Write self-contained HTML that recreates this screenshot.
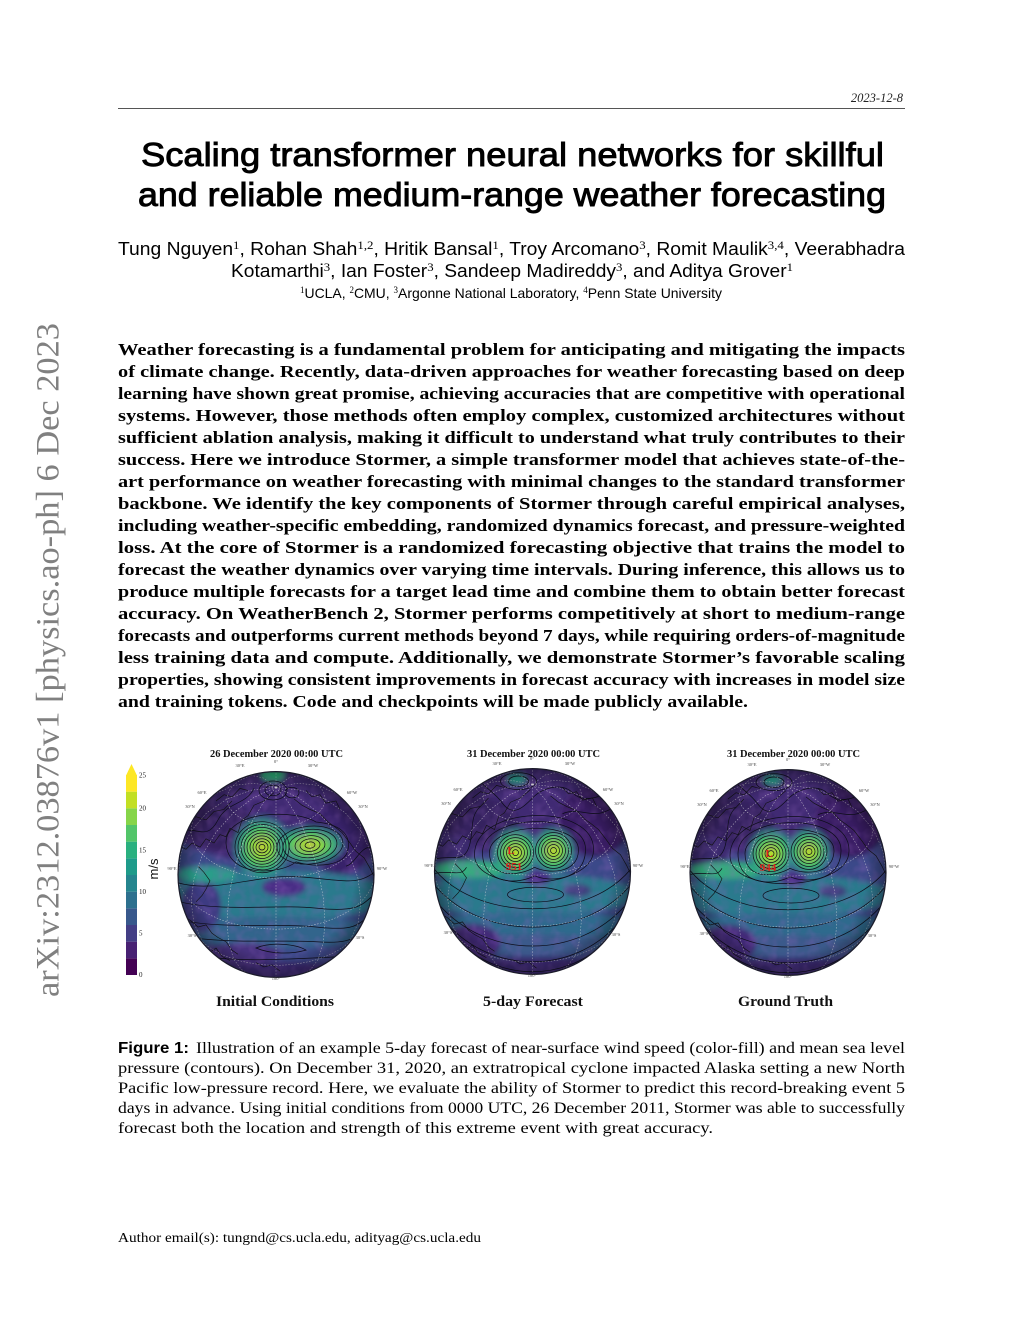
<!DOCTYPE html>
<html>
<head>
<meta charset="utf-8">
<style>
html,body{margin:0;padding:0;background:#fff;}
body{width:1024px;height:1325px;overflow:hidden;}
svg{display:block;}
.ser{font-family:"Liberation Serif",serif;}
.san{font-family:"Liberation Sans",sans-serif;}
</style>
</head>
<body>
<svg width="1024" height="1325" viewBox="0 0 1024 1325" xmlns="http://www.w3.org/2000/svg">
<defs>
  <clipPath id="gclip"><circle cx="0" cy="0" r="98"/></clipPath>
  <filter id="blur" x="-30%" y="-30%" width="160%" height="160%"><feGaussianBlur stdDeviation="2.5"/></filter>
  <filter id="noise" x="0" y="0" width="100%" height="100%">
    <feTurbulence type="fractalNoise" baseFrequency="0.1" numOctaves="2" seed="3"/>
    <feColorMatrix type="matrix" values="0 0 0 0 0.28  0 0 0 0 0.12  0 0 0 0 0.5  1.6 0 0 0 -0.62"/>
  </filter>
  <radialGradient id="cyc">
    <stop offset="0" stop-color="#c8e020"/>
    <stop offset="0.3" stop-color="#8fd744"/>
    <stop offset="0.6" stop-color="#3fbc73"/>
    <stop offset="0.85" stop-color="#25998a" stop-opacity="0.6"/>
    <stop offset="1" stop-color="#25858e" stop-opacity="0"/>
  </radialGradient>
  <radialGradient id="limb">
    <stop offset="0.8" stop-color="#000" stop-opacity="0"/>
    <stop offset="1" stop-color="#000" stop-opacity="0.35"/>
  </radialGradient>

  <g id="grat" fill="none" stroke="#e6e6e6" stroke-opacity="0.75" stroke-width="0.5" stroke-dasharray="1.5 1.5">
    <ellipse cx="0" cy="-71.9" rx="49" ry="26"/>
    <path d="M -79.3 -57.6 A 84.9 45 0 1 0 79.3 -57.6"/>
    <path d="M -98 0 A 98 52 0 0 0 98 0"/>
    <path d="M -79.1 57.8 A 84.9 45 0 0 0 79.1 57.8"/>
    <path d="M 0 -83 L 0 98"/>
    <path d="M 0 -83 L 0 -98"/>
    <path d="M 0 -83 L 12.7 -68.5 L 24.5 -49.4 L 34.6 -26.9 L 42.4 -2.5 L 47.3 22 L 49 45 L 47.3 65 L 42.4 80.5 L 34.6 90.5 L 28.8 93.6"/>
    <path d="M 0 -83 L -12.7 -68.5 L -24.5 -49.4 L -34.6 -26.9 L -42.4 -2.5 L -47.3 22 L -49 45 L -47.3 65 L -42.4 80.5 L -34.6 90.5 L -28.8 93.6"/>
    <path d="M 0 -83 L 22 -73.5 L 42.4 -58.9 L 60 -40.3 L 73.5 -19 L 82 3.6 L 84.9 26 L 82 46.6 L 73.5 64 L 66.3 72.1"/>
    <path d="M 0 -83 L -22 -73.5 L -42.4 -58.9 L -60 -40.3 L -73.5 -19 L -82 3.6 L -84.9 26 L -82 46.6 L -73.5 64 L -66.3 72.1"/>
    <path d="M 0 -83 L 25.4 -80.2 L 49 -71.9 L 69.3 -58.7 L 84.9 -41.5 L 94.7 -21.5 L 98 0"/>
    <path d="M 0 -83 L -25.4 -80.2 L -49 -71.9 L -69.3 -58.7 L -84.9 -41.5 L -94.7 -21.5 L -98 0"/>
    <path d="M 0 -83 L 22 -86.9 L 42.4 -84.9 L 60 -77.1 L 66.3 -72.1"/>
    <path d="M 0 -83 L -22 -86.9 L -42.4 -84.9 L -60 -77.1 L -66.3 -72.1"/>
    <path d="M 0 -83 L 12.7 -91.9 L 24.5 -94.4 L 28.7 -93.6"/>
    <path d="M 0 -83 L -12.7 -91.9 L -24.5 -94.4 L -28.7 -93.6"/>
  </g>

  <g id="coast" fill="none" stroke="#111" stroke-width="0.6">
    <path d="M -98 -28 L -90 -24 L -84 -30 L -76 -26 L -70 -34 L -62 -30 L -56 -38 L -50 -36 L -46 -44 L -38 -40 L -34 -52 L -28 -56 L -22 -66 L -12 -70 L -2 -78"/>
    <path d="M 18 -72 L 26 -66 L 34 -62 L 44 -58 L 52 -50 L 58 -46 L 66 -40 L 74 -30 L 80 -22 L 88 -16 L 94 -6 L 98 2"/>
    <path d="M -92 40 L -85 44 L -78 50 L -70 48 L -64 56 L -58 60 L -50 64 L -44 72 L -38 76"/>
    <path d="M -80 62 L -72 68 L -66 74 L -60 70 L -54 78 L -46 82"/>
    <path d="M -78 -8 L -72 -2 L -66 6 L -70 14 L -74 20 L -80 26"/>
    <path d="M -88 -50 L -80 -55 L -70 -52 L -62 -60 L -52 -62 L -44 -70"/>
    <path d="M 40 -92 L 48 -86 L 58 -88 L 66 -80 L 74 -82 L 80 -72"/>
    <path d="M -20 84 L -12 88 L -4 86 L 4 92"/>
    <path d="M 30 -80 L 36 -74 L 44 -76 L 50 -68 L 60 -70 L 64 -62"/>
    <path d="M -60 -70 L -52 -76 L -44 -74 L -36 -82 L -28 -80"/>
  </g>
</defs>

<!-- arXiv stamp -->
<text class="ser" transform="translate(58.5,997) rotate(-90)" x="0" y="0" font-size="33" fill="#808080" textLength="674" lengthAdjust="spacingAndGlyphs">arXiv:2312.03876v1  [physics.ao-ph]  6 Dec 2023</text>

<!-- header -->
<text class="ser" x="903" y="102" font-size="12.5" font-style="italic" text-anchor="end" fill="#222">2023-12-8</text>
<line x1="118" y1="108.5" x2="905" y2="108.5" stroke="#555" stroke-width="1"/>

<!-- title -->
<g class="san" font-size="33" fill="#000" stroke="#000" stroke-width="0.9">
<text x="141" y="166" textLength="743" lengthAdjust="spacingAndGlyphs">Scaling transformer neural networks for skillful</text>
<text x="138" y="206" textLength="748" lengthAdjust="spacingAndGlyphs">and reliable medium-range weather forecasting</text>
</g>

<!-- authors -->
<text class="san" x="118" y="255" font-size="18" fill="#000" textLength="787" lengthAdjust="spacingAndGlyphs">Tung Nguyen<tspan class="ser" dy="-6" font-size="12">1</tspan><tspan dy="6">, Rohan Shah</tspan><tspan class="ser" dy="-6" font-size="12">1,2</tspan><tspan dy="6">, Hritik Bansal</tspan><tspan class="ser" dy="-6" font-size="12">1</tspan><tspan dy="6">, Troy Arcomano</tspan><tspan class="ser" dy="-6" font-size="12">3</tspan><tspan dy="6">, Romit Maulik</tspan><tspan class="ser" dy="-6" font-size="12">3,4</tspan><tspan dy="6">, Veerabhadra</tspan></text>
<text class="san" x="231" y="277" font-size="18" fill="#000" textLength="562" lengthAdjust="spacingAndGlyphs">Kotamarthi<tspan class="ser" dy="-6" font-size="12">3</tspan><tspan dy="6">, Ian Foster</tspan><tspan class="ser" dy="-6" font-size="12">3</tspan><tspan dy="6">, Sandeep Madireddy</tspan><tspan class="ser" dy="-6" font-size="12">3</tspan><tspan dy="6">, and Aditya Grover</tspan><tspan class="ser" dy="-6" font-size="12">1</tspan></text>
<text class="san" x="300" y="298" font-size="14" fill="#000" textLength="422" lengthAdjust="spacingAndGlyphs"><tspan class="ser" dy="-5" font-size="9">1</tspan><tspan dy="5">UCLA, </tspan><tspan class="ser" dy="-5" font-size="9">2</tspan><tspan dy="5">CMU, </tspan><tspan class="ser" dy="-5" font-size="9">3</tspan><tspan dy="5">Argonne National Laboratory, </tspan><tspan class="ser" dy="-5" font-size="9">4</tspan><tspan dy="5">Penn State University</tspan></text>

<!-- abstract -->
<g class="ser" font-size="17" font-weight="bold" fill="#000">
<text x="118" y="355" textLength="787" lengthAdjust="spacingAndGlyphs">Weather forecasting is a fundamental problem for anticipating and mitigating the impacts</text>
<text x="118" y="377" textLength="787" lengthAdjust="spacingAndGlyphs">of climate change. Recently, data-driven approaches for weather forecasting based on deep</text>
<text x="118" y="399" textLength="787" lengthAdjust="spacingAndGlyphs">learning have shown great promise, achieving accuracies that are competitive with operational</text>
<text x="118" y="421" textLength="787" lengthAdjust="spacingAndGlyphs">systems. However, those methods often employ complex, customized architectures without</text>
<text x="118" y="443" textLength="787" lengthAdjust="spacingAndGlyphs">sufficient ablation analysis, making it difficult to understand what truly contributes to their</text>
<text x="118" y="465" textLength="787" lengthAdjust="spacingAndGlyphs">success. Here we introduce Stormer, a simple transformer model that achieves state-of-the-</text>
<text x="118" y="487" textLength="787" lengthAdjust="spacingAndGlyphs">art performance on weather forecasting with minimal changes to the standard transformer</text>
<text x="118" y="509" textLength="787" lengthAdjust="spacingAndGlyphs">backbone. We identify the key components of Stormer through careful empirical analyses,</text>
<text x="118" y="531" textLength="787" lengthAdjust="spacingAndGlyphs">including weather-specific embedding, randomized dynamics forecast, and pressure-weighted</text>
<text x="118" y="553" textLength="787" lengthAdjust="spacingAndGlyphs">loss. At the core of Stormer is a randomized forecasting objective that trains the model to</text>
<text x="118" y="575" textLength="787" lengthAdjust="spacingAndGlyphs">forecast the weather dynamics over varying time intervals. During inference, this allows us to</text>
<text x="118" y="597" textLength="787" lengthAdjust="spacingAndGlyphs">produce multiple forecasts for a target lead time and combine them to obtain better forecast</text>
<text x="118" y="619" textLength="787" lengthAdjust="spacingAndGlyphs">accuracy. On WeatherBench 2, Stormer performs competitively at short to medium-range</text>
<text x="118" y="641" textLength="787" lengthAdjust="spacingAndGlyphs">forecasts and outperforms current methods beyond 7 days, while requiring orders-of-magnitude</text>
<text x="118" y="663" textLength="787" lengthAdjust="spacingAndGlyphs">less training data and compute. Additionally, we demonstrate Stormer’s favorable scaling</text>
<text x="118" y="685" textLength="787" lengthAdjust="spacingAndGlyphs">properties, showing consistent improvements in forecast accuracy with increases in model size</text>
<text x="118" y="707" textLength="630" lengthAdjust="spacingAndGlyphs">and training tokens. Code and checkpoints will be made publicly available.</text>
</g>

<!-- FIGURE -->
<!-- colorbar -->
<g>
  <rect x="126" y="958.33" width="11" height="16.67" fill="#440154"/>
  <rect x="126" y="941.67" width="11" height="16.67" fill="#482173"/>
  <rect x="126" y="925" width="11" height="16.67" fill="#433e85"/>
  <rect x="126" y="908.33" width="11" height="16.67" fill="#38588c"/>
  <rect x="126" y="891.67" width="11" height="16.67" fill="#2d708e"/>
  <rect x="126" y="875" width="11" height="16.67" fill="#25858e"/>
  <rect x="126" y="858.33" width="11" height="16.67" fill="#1e9b8a"/>
  <rect x="126" y="841.67" width="11" height="16.67" fill="#2ab07f"/>
  <rect x="126" y="825" width="11" height="16.67" fill="#52c569"/>
  <rect x="126" y="808.33" width="11" height="16.67" fill="#86d549"/>
  <rect x="126" y="791.67" width="11" height="16.67" fill="#c2df23"/>
  <rect x="126" y="775" width="11" height="16.67" fill="#fde725"/>
  <polygon points="126,775.5 137,775.5 131.5,764" fill="#fde725"/>
  <g class="ser" font-size="7" fill="#222">
    <text x="139" y="777.5">25</text>
    <text x="139" y="810.5">20</text>
    <text x="139" y="852.5">15</text>
    <text x="139" y="894">10</text>
    <text x="139" y="935.5">5</text>
    <text x="139" y="977">0</text>
  </g>
  <text class="san" transform="translate(158,869) rotate(-90)" x="0" y="0" font-size="13" text-anchor="middle" fill="#111">m/s</text>
</g>

<!-- globe titles -->
<g class="ser" font-size="10" font-weight="bold" fill="#111">
  <text x="210" y="757" textLength="133" lengthAdjust="spacingAndGlyphs">26 December 2020 00:00 UTC</text>
  <text x="467" y="757" textLength="133" lengthAdjust="spacingAndGlyphs">31 December 2020 00:00 UTC</text>
  <text x="727" y="757" textLength="133" lengthAdjust="spacingAndGlyphs">31 December 2020 00:00 UTC</text>
</g>

<!-- GLOBE 1 -->
<g transform="translate(276,874.5) scale(1,1.05)">
  <g clip-path="url(#gclip)">
    <g filter="url(#blur)">
      <rect x="-130" y="-130" width="260" height="260" fill="#3b4a89"/>
      <ellipse cx="0" cy="-65" rx="120" ry="55" fill="#3f2a73"/>
      <ellipse cx="-55" cy="-45" rx="35" ry="22" fill="#36205f"/>
      <ellipse cx="65" cy="-35" rx="35" ry="35" fill="#38206a"/>
      <ellipse cx="0" cy="20" rx="115" ry="24" fill="#2c7a8d"/>
      <ellipse cx="8" cy="12" rx="22" ry="9" fill="#4a2f86"/>
      <ellipse cx="0" cy="55" rx="105" ry="15" fill="#33658c"/>
      <ellipse cx="-35" cy="75" rx="40" ry="10" fill="#46307f"/>
      <ellipse cx="0" cy="95" rx="90" ry="12" fill="#3e2b75"/>
      <ellipse cx="-75" cy="30" rx="20" ry="25" fill="#3e3a82"/>
      <circle cx="-14" cy="-26" r="32" fill="url(#cyc)"/>
      <ellipse cx="34" cy="-28" rx="38" ry="20" fill="url(#cyc)"/>
      <ellipse cx="-70" cy="0" rx="30" ry="8" fill="#2a9d8a"/>
      <ellipse cx="-3" cy="-95" rx="12" ry="6" fill="#2fb47c"/>
    </g>
    <rect x="-100" y="-100" width="200" height="200" filter="url(#noise)" opacity="0.4"/>
    <use href="#coast"/>
    <g fill="none" stroke="#0d0d1a" stroke-width="0.7">
      <ellipse cx="-14" cy="-26" rx="3" ry="2.7"/>
      <ellipse cx="-14" cy="-26" rx="6" ry="5.4"/>
      <ellipse cx="-14" cy="-26" rx="9" ry="8.1"/>
      <ellipse cx="-14" cy="-26" rx="12" ry="10.8"/>
      <ellipse cx="-14" cy="-26" rx="15" ry="13.5"/>
      <ellipse cx="-14" cy="-26" rx="18" ry="16.2"/>
      <ellipse cx="-14" cy="-26" rx="21" ry="18.9"/>
      <ellipse cx="-14" cy="-26" rx="24" ry="21.6"/>
      <ellipse cx="-14" cy="-26" rx="27" ry="24.3"/>
      <g transform="rotate(-5 34 -28)">
        <ellipse cx="34" cy="-28" rx="5" ry="3"/>
        <ellipse cx="34" cy="-28" rx="10" ry="6"/>
        <ellipse cx="34" cy="-28" rx="15" ry="9"/>
        <ellipse cx="34" cy="-28" rx="21" ry="12"/>
        <ellipse cx="34" cy="-28" rx="27" ry="15"/>
        <ellipse cx="34" cy="-28" rx="33" ry="18"/>
      </g>
      <path d="M -50 -30 C -50 -62, 20 -62, 40 -50 C 62 -48, 75 -40, 72 -24 C 70 -8, 40 -6, 20 -12 C 5 0, -48 4, -50 -30 Z"/>
      <ellipse cx="-3" cy="-80" rx="8" ry="5"/>
      <ellipse cx="-3" cy="-80" rx="14" ry="9"/>
      <ellipse cx="16" cy="-78" rx="7" ry="5"/>
      <path d="M -98 -40 C -80 -48, -70 -30, -58 -52 C -48 -70, -30 -66, -22 -82"/>
      <path d="M 40 -92 C 50 -80, 70 -82, 80 -70"/>
      <path d="M 98 -25 C 85 -30, 80 -10, 70 -8"/>
      <path d="M -98 8 C -60 18, -20 0, 20 2 S 80 12, 98 -2"/>
      <path d="M -97 26 C -50 36, 0 28, 40 32 S 85 30, 97 20"/>
      <path d="M -93 44 C -50 52, 0 46, 40 50 S 80 48, 93 40"/>
      <path d="M -86 60 C -40 66, 10 62, 40 64 S 75 62, 86 56"/>
      <path d="M -72 78 C -30 84, 20 80, 72 78"/>
      <path d="M -20 70 C -5 64, 20 66, 30 72 C 15 76, -5 76, -20 70 Z"/>
    </g>
    <use href="#grat"/>
    <circle cx="0" cy="0" r="98" fill="url(#limb)"/>
  </g>
  <circle cx="0" cy="0" r="98" fill="none" stroke="#1b1b2a" stroke-width="1.2"/>
</g>

<!-- GLOBE 2 field shared with 3 -->
<g transform="translate(532.5,871.5) scale(1,1.05)">
  <g clip-path="url(#gclip)">
    <g id="fieldB" filter="url(#blur)">
      <rect x="-130" y="-130" width="260" height="260" fill="#3b4a89"/>
      <ellipse cx="0" cy="-68" rx="120" ry="55" fill="#3f2a73"/>
      <ellipse cx="-52" cy="-48" rx="38" ry="22" fill="#36205f"/>
      <ellipse cx="62" cy="-48" rx="36" ry="34" fill="#371f62"/>
      <ellipse cx="-80" cy="-20" rx="22" ry="15" fill="#3a2a6e"/>
      <ellipse cx="-10" cy="22" rx="115" ry="20" fill="#2b7a8d"/>
      <ellipse cx="0" cy="52" rx="105" ry="14" fill="#2f6a8d"/>
      <ellipse cx="-5" cy="70" rx="100" ry="10" fill="#3a5a8b"/>
      <ellipse cx="-60" cy="68" rx="28" ry="18" fill="#422c78"/>
      <ellipse cx="0" cy="94" rx="90" ry="12" fill="#3e2b75"/>
      <ellipse cx="5" cy="6" rx="14" ry="7" fill="#4a2f86"/>
      <ellipse cx="45" cy="18" rx="14" ry="6" fill="#41407f"/>
      <ellipse cx="-62" cy="-2" rx="38" ry="8" fill="#34ad7e"/>
      <circle cx="-17" cy="-18" r="26" fill="url(#cyc)"/>
      <circle cx="21" cy="-20" r="24" fill="url(#cyc)"/>
      <ellipse cx="-16" cy="-88" rx="10" ry="5" fill="#2a9a8a"/>
    </g>
    <rect x="-100" y="-100" width="200" height="200" filter="url(#noise)" opacity="0.4"/>
    <use href="#coast"/>
    <g id="contB" fill="none" stroke="#0d0d1a" stroke-width="0.7">
      <ellipse cx="-17" cy="-18" rx="3" ry="2.85"/>
      <ellipse cx="-17" cy="-18" rx="6" ry="5.7"/>
      <ellipse cx="-17" cy="-18" rx="9" ry="8.55"/>
      <ellipse cx="-17" cy="-18" rx="12" ry="11.4"/>
      <ellipse cx="-17" cy="-18" rx="15" ry="14.25"/>
      <ellipse cx="-17" cy="-18" rx="18" ry="17.1"/>
      <ellipse cx="21" cy="-20" rx="3" ry="2.85"/>
      <ellipse cx="21" cy="-20" rx="6" ry="5.7"/>
      <ellipse cx="21" cy="-20" rx="9" ry="8.55"/>
      <ellipse cx="21" cy="-20" rx="12" ry="11.4"/>
      <ellipse cx="21" cy="-20" rx="15" ry="14.25"/>
      <ellipse cx="21" cy="-20" rx="18" ry="17.1"/>
      <path d="M -43 -18 C -43 -47, 47 -50, 46 -20 C 45 3, 15 2, 2 -4 C -12 4, -43 8, -43 -18 Z"/>
      <path d="M -50 -18 C -50 -56, 55 -58, 53 -20 C 52 10, 15 10, 2 4 C -12 12, -50 14, -50 -18 Z"/>
      <path d="M -58 -16 C -58 -64, 63 -66, 61 -20 C 60 18, -58 22, -58 -16 Z"/>
      <path d="M -98 -12 C -80 -16, -70 -8, -64 -22 C -58 -36, -64 -52, -52 -62"/>
      <path d="M -98 2 C -80 -2, -72 6, -66 -4"/>
      <ellipse cx="-14" cy="-86" rx="10" ry="5"/>
      <ellipse cx="-14" cy="-86" rx="18" ry="8"/>
      <path d="M -60 -95 C -50 -80, -40 -78, -30 -65 S -10 -60, 0 -70 S 30 -85, 40 -75 S 70 -70, 80 -80"/>
      <path d="M 30 -55 C 45 -62, 60 -50, 75 -58 S 90 -40, 98 -38"/>
      <path d="M -98 -2 C -55 48, 55 48, 98 -2"/>
      <path d="M -97 14 C -50 66, 50 66, 97 14"/>
      <path d="M -93 32 C -45 84, 45 84, 93 32"/>
      <path d="M -85 50 C -40 98, 40 98, 85 50"/>
      <path d="M -70 70 C -30 104, 30 104, 70 70"/>
      <ellipse cx="3" cy="22" rx="28" ry="7"/>
    </g>
    <use href="#grat"/>
    <circle cx="0" cy="0" r="98" fill="url(#limb)"/>
  </g>
  <circle cx="0" cy="0" r="98" fill="none" stroke="#1b1b2a" stroke-width="1.2"/>
</g>

<!-- GLOBE 3 -->
<g transform="translate(788,872.5) scale(1,1.05)">
  <g clip-path="url(#gclip)">
    <use href="#fieldB"/>
    <rect x="-100" y="-100" width="200" height="200" filter="url(#noise)" opacity="0.4"/>
    <use href="#coast"/>
    <use href="#contB"/>
    <use href="#grat"/>
    <circle cx="0" cy="0" r="98" fill="url(#limb)"/>
  </g>
  <circle cx="0" cy="0" r="98" fill="none" stroke="#1b1b2a" stroke-width="1.2"/>
</g>

<!-- red low labels -->
<g class="ser" font-weight="bold" fill="#e0201b" text-anchor="middle">
  <text x="511" y="854" font-size="11">L</text>
  <text x="514" y="870" font-size="11">951</text>
  <text x="769" y="857" font-size="11">L</text>
  <text x="768" y="871" font-size="11">944</text>
</g>

<!-- tiny graticule labels -->
<g class="ser" font-size="4.5" fill="#444" text-anchor="middle">
  <text x="276" y="763">0°</text><text x="240" y="767">30°E</text><text x="313" y="767">30°W</text>
  <text x="202" y="794">60°E</text><text x="352" y="794">60°W</text>
  <text x="190" y="808">30°N</text><text x="363" y="808">30°N</text>
  <text x="172" y="870">90°E</text><text x="382" y="870">90°W</text>
  <text x="192" y="937">30°S</text><text x="360" y="939">30°S</text>
  <text x="276" y="980">180°</text>

  <text x="532" y="760">0°</text><text x="497" y="765">30°E</text><text x="570" y="765">30°W</text>
  <text x="458" y="791">60°E</text><text x="608" y="791">60°W</text>
  <text x="446" y="805">30°N</text><text x="619" y="805">30°N</text>
  <text x="429" y="867">90°E</text><text x="638" y="867">90°W</text>
  <text x="448" y="934">30°S</text><text x="616" y="936">30°S</text>
  <text x="532" y="977">180°</text>

  <text x="788" y="761">0°</text><text x="752" y="766">30°E</text><text x="825" y="766">30°W</text>
  <text x="714" y="792">60°E</text><text x="864" y="792">60°W</text>
  <text x="702" y="806">30°N</text><text x="875" y="806">30°N</text>
  <text x="685" y="868">90°E</text><text x="894" y="868">90°W</text>
  <text x="704" y="935">30°S</text><text x="872" y="937">30°S</text>
  <text x="788" y="978">180°</text>
</g>

<!-- globe bottom labels -->
<g class="ser" font-size="14.5" font-weight="bold" fill="#111">
  <text x="216" y="1006" textLength="118" lengthAdjust="spacingAndGlyphs">Initial Conditions</text>
  <text x="483" y="1006" textLength="100" lengthAdjust="spacingAndGlyphs">5-day Forecast</text>
  <text x="738" y="1006" textLength="95" lengthAdjust="spacingAndGlyphs">Ground Truth</text>
</g>

<!-- caption -->
<text class="san" x="118" y="1053" font-size="15.5" font-weight="bold" fill="#000" textLength="71" lengthAdjust="spacingAndGlyphs">Figure 1:</text>
<g class="ser" font-size="16" fill="#000">
<text x="196" y="1053" textLength="709" lengthAdjust="spacingAndGlyphs">Illustration of an example 5-day forecast of near-surface wind speed (color-fill) and mean sea level</text>
<text x="118" y="1073" textLength="787" lengthAdjust="spacingAndGlyphs">pressure (contours). On December 31, 2020, an extratropical cyclone impacted Alaska setting a new North</text>
<text x="118" y="1093" textLength="787" lengthAdjust="spacingAndGlyphs">Pacific low-pressure record. Here, we evaluate the ability of Stormer to predict this record-breaking event 5</text>
<text x="118" y="1113" textLength="787" lengthAdjust="spacingAndGlyphs">days in advance. Using initial conditions from 0000 UTC, 26 December 2011, Stormer was able to successfully</text>
<text x="118" y="1133" textLength="595" lengthAdjust="spacingAndGlyphs">forecast both the location and strength of this extreme event with great accuracy.</text>
</g>

<!-- footer -->
<text class="ser" x="118" y="1242" font-size="13.5" fill="#000" textLength="363" lengthAdjust="spacingAndGlyphs">Author email(s): tungnd@cs.ucla.edu, adityag@cs.ucla.edu</text>
</svg>
</body>
</html>
